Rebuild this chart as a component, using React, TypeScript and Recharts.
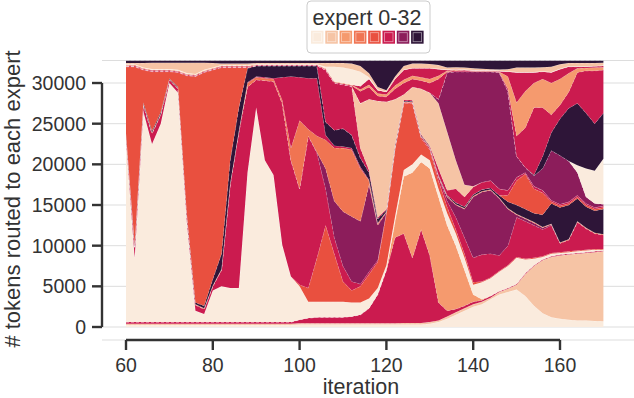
import { ComposedChart, Area, XAxis, YAxis, CartesianGrid, ReferenceLine } from 'recharts';

// sampled iterations
const iterations = [
  60, 62, 64, 66, 68, 70, 72, 74, 76, 78,
  80, 82, 84, 86, 88, 90, 92, 94, 96, 98,
  100, 102, 104, 106, 108, 110, 112, 114, 116, 118,
  120, 122, 124, 126, 128, 130, 132, 134, 136, 138,
  140, 142, 144, 146, 148, 150, 152, 154, 156, 158,
  160, 162, 164, 166, 168, 170,
];

const BATCH_TOKENS = 32768;

// cumulative token count at the top of each band, bottom to top
const topBaseCream = [
  250, 250, 250, 250, 250, 250, 250, 250, 250, 250,
  250, 250, 250, 250, 250, 250, 250, 250, 250, 250,
  300, 300, 300, 300, 300, 300, 300, 300, 300, 300,
  300, 300, 300, 300, 300, 400, 600, 1000, 1500, 2000,
  2500, 2800, 3400, 4000, 4300, 4600, 3800, 2600, 1700, 1200,
  1000, 900, 800, 800, 750, 700,
];
const topBasePeach = [
  400, 400, 400, 400, 400, 400, 400, 400, 400, 400,
  400, 400, 400, 400, 400, 400, 400, 400, 400, 400,
  450, 450, 450, 450, 450, 450, 450, 450, 450, 450,
  450, 450, 500, 500, 500, 600, 800, 1300, 1800, 2300,
  2800, 3100, 3600, 4300, 4700, 5200, 6500, 7500, 8200, 8600,
  8800, 8900, 9000, 9100, 9200, 9300,
];
const topLowCrimson = [
  600, 600, 600, 600, 600, 600, 600, 600, 600, 600,
  600, 600, 600, 600, 600, 600, 600, 600, 600, 600,
  900, 1100, 1200, 1200, 1200, 1200, 1300, 1500, 2300, 4000,
  7000, 11000, 11500, 8500, 12000, 8800, 3000, 2000, 2200, 2600,
  3100, 3300, 3800, 4400, 4800, 5300, 6600, 7600, 8300, 8700,
  8900, 9000, 9100, 9200, 9300, 9400,
];
const topLightOrangeLow = [
  600, 600, 600, 600, 600, 600, 600, 600, 600, 600,
  600, 600, 600, 600, 600, 600, 600, 600, 600, 600,
  900, 1100, 1200, 1200, 1200, 1200, 1300, 1500, 2300, 4000,
  7000, 13000, 18500, 19000, 20300, 19500, 16000, 12500, 10000, 7000,
  4000, 3400, 3800, 4400, 4800, 5300, 6600, 7600, 8300, 8700,
  8900, 9000, 9100, 9200, 9300, 9400,
];
const topBigCream = [
  23000, 8500, 26500, 22500, 25000, 30000, 28800, 13000, 2000, 1600,
  4500, 5000, 4800, 4800, 19000, 27000, 20500, 18700, 10100, 6200,
  5000, 3100, 3100, 3100, 3100, 3100, 3000, 3000, 3500, 4800,
  7600, 13600, 19300, 20000, 21200, 20500, 17000, 14000, 11500, 8500,
  5200, 5500, 6000, 6800, 7500, 8500, 8300, 8400, 8600, 9000,
  9100, 9200, 9300, 9400, 9500, 9500,
];
const topRedTri = [
  23000, 8500, 26500, 22500, 25000, 30000, 28800, 13000, 2000, 1600,
  4500, 5000, 4800, 4800, 19000, 27000, 20500, 18700, 10100, 6200,
  5200, 4800, 8500, 12500, 9000, 5600, 4500, 5000, 6500, 8000,
  14000, 22000, 27500, 27500, 23200, 21800, 18000, 14800, 12000, 9000,
  5500, 5600, 6100, 6900, 7600, 8600, 8400, 8500, 8700, 9100,
  9200, 9300, 9400, 9500, 9600, 9600,
];
const topCrimsonA = [
  23500, 9800, 27300, 23800, 26100, 30400, 29300, 13700, 2700, 2200,
  5000, 7000, 17500, 24000, 29500, 30400, 30300, 30200, 27500, 20500,
  17000, 23500, 21400, 17000, 11000, 7500, 5600, 5300, 6800, 8200,
  14100, 22100, 27600, 27600, 23400, 22000, 18500, 15500, 13500, 11000,
  8500, 8900, 9000, 8800, 10000, 13500, 13000, 12500, 12000, 12500,
  10300, 10700, 12900, 12100, 11500, 11300,
];
const topPurpleA = [
  23500, 9800, 27300, 23800, 26100, 30400, 29300, 13700, 2700, 2200,
  5000, 7000, 17500, 24000, 29500, 30400, 30300, 30200, 27500, 20500,
  17000, 23500, 21500, 19500, 15500, 14200, 13600, 13000, 17500, 12500,
  14100, 22100, 27600, 27600, 23400, 22000, 18500, 16000, 15000, 14500,
  16000, 16600, 16800, 15800, 14500, 13800, 13300, 12800, 12200, 12600,
  10300, 10700, 12900, 12100, 11500, 11300,
];
const topOrangeA = [
  23600, 9900, 27400, 23900, 26200, 30450, 29400, 13800, 2800, 2300,
  5100, 7100, 17600, 24100, 30000, 30700, 30600, 30500, 27900, 22000,
  25400, 24300, 23500, 23000, 22000, 22000, 21800, 19500, 18000, 12700,
  14200, 22200, 27700, 27700, 23500, 22100, 18600, 16100, 15100, 14600,
  16100, 16700, 16900, 15900, 14600, 13900, 13400, 12900, 12300, 12700,
  10400, 10800, 13000, 12200, 11600, 11400,
];
const topCrimsonA2 = [
  23600, 9900, 27400, 23900, 26200, 30450, 29400, 13800, 2800, 2300,
  5100, 7100, 17600, 24100, 30100, 30800, 30700, 30600, 30700, 30800,
  30700, 30600, 30600, 23600, 22300, 22200, 22000, 19700, 18100, 12800,
  14200, 22200, 27700, 27700, 23500, 22100, 18600, 16100, 15100, 14600,
  16100, 16700, 16900, 15900, 14600, 13900, 13400, 12900, 12300, 12700,
  10400, 10800, 13000, 12200, 11600, 11400,
];
const topDarkA = [
  23800, 10100, 27600, 24100, 26400, 30550, 29500, 14000, 3000, 2600,
  5900, 9000, 20500, 27000, 31800, 32100, 32100, 32100, 32100, 32100,
  32100, 32100, 32100, 25200, 24200, 24400, 23600, 20800, 19000, 13300,
  14400, 22400, 27800, 27800, 23600, 22200, 18700, 16200, 15300, 14800,
  16300, 16900, 17100, 16200, 15400, 15000, 14500, 14000, 13800, 15200,
  14700, 15000, 15800, 14800, 14300, 14500,
];
const topRedBig = [
  32000, 32000, 31600, 31400, 31400, 31400, 31300, 30900, 30800, 31300,
  31600, 31900, 31900, 31900, 31900, 32100, 32100, 32100, 32100, 32100,
  32100, 32100, 32100, 25200, 24200, 24400, 23600, 20800, 19000, 13300,
  14400, 22400, 27800, 27800, 23600, 22200, 18700, 16200, 15300, 14800,
  16300, 16900, 17100, 16200, 16200, 18000, 18800, 17000, 16500, 15400,
  14900, 15200, 16000, 15000, 14500, 14700,
];
const topCrimsonB = [
  32080, 32080, 31680, 31480, 31480, 31480, 31380, 30980, 30880, 31380,
  31680, 31980, 31980, 31980, 31980, 32150, 32150, 32150, 32150, 32150,
  32150, 32150, 32150, 31600, 30000, 29800, 29600, 22000, 19300, 13500,
  14500, 22500, 27900, 27900, 23700, 22300, 19500, 16800, 17000, 16000,
  17200, 17800, 18000, 17000, 16800, 18400, 19000, 17300, 16800, 15600,
  15100, 15400, 16200, 15200, 14700, 14900,
];
const topPeachV = [
  32080, 32080, 31680, 31480, 31480, 31480, 31380, 30980, 30880, 31380,
  31680, 31980, 31980, 31980, 31980, 32150, 32150, 32150, 32150, 32150,
  32150, 32150, 32150, 31600, 30000, 29800, 29600, 27500, 28000, 27800,
  27700, 28000, 28600, 29500, 29300, 28800, 27500, 24000, 20500, 17500,
  17300, 17800, 18000, 17000, 16800, 18400, 19000, 17300, 16800, 15600,
  15100, 15400, 16200, 15200, 14700, 14900,
];
const topPurpleB = [
  32080, 32080, 31680, 31480, 31480, 31480, 31380, 30980, 30880, 31380,
  31680, 31980, 31980, 31980, 31980, 32150, 32150, 32150, 32150, 32150,
  32150, 32150, 32150, 31600, 30000, 29800, 29600, 27500, 28000, 27800,
  27700, 28000, 28600, 29500, 29300, 28800, 28000, 31300, 31400, 31400,
  31400, 31400, 31400, 31300, 29000, 21000, 19600, 18600, 19500, 21700,
  21100, 20400, 19000, 16000, 15200, 15100,
];
const topCreamR = [
  32080, 32080, 31680, 31480, 31480, 31480, 31380, 30980, 30880, 31380,
  31680, 31980, 31980, 31980, 31980, 32150, 32150, 32150, 32150, 32150,
  32150, 32150, 32150, 31600, 30000, 29800, 29600, 27500, 28000, 27800,
  27700, 28000, 28600, 29500, 29300, 28800, 28000, 31300, 31400, 31400,
  31400, 31400, 31400, 31300, 29000, 21000, 19600, 18600, 19500, 21700,
  21100, 20400, 19900, 19500, 19200, 20700,
];
const topDarkB = [
  32080, 32080, 31680, 31480, 31480, 31480, 31380, 30980, 30880, 31380,
  31680, 31980, 31980, 31980, 31980, 32150, 32150, 32150, 32150, 32150,
  32150, 32150, 32150, 31600, 30000, 29800, 29600, 27500, 28000, 27800,
  27700, 28000, 28600, 29500, 29300, 28800, 28000, 31300, 31400, 31400,
  31400, 31400, 31400, 31300, 29000, 21000, 19600, 18700, 21000, 23900,
  25600, 26900, 27500, 26300, 25000, 26300,
];
const topCrimsonC = [
  32160, 32160, 31760, 31560, 31560, 31560, 31460, 31060, 30960, 31460,
  31760, 32060, 32060, 32060, 32060, 32200, 32200, 32200, 32200, 32200,
  32200, 32200, 32200, 31700, 30100, 29900, 29700, 29000, 29500, 28400,
  28300, 29300, 30000, 30500, 30300, 30000, 30500, 31400, 31500, 31500,
  31450, 31450, 31450, 31350, 29300, 23500, 24500, 27000, 27000, 26100,
  27300, 28900, 31300, 31500, 31500, 31600,
];
const topLightOrangeTop = [
  32240, 32240, 31840, 31640, 31640, 31640, 31540, 31140, 31040, 31540,
  31840, 32140, 32140, 32140, 32140, 32250, 32250, 32250, 32250, 32250,
  32250, 32250, 32250, 31800, 30200, 30000, 29800, 29200, 29800, 28700,
  28600, 29700, 30400, 30900, 30700, 30500, 30900, 31500, 31600, 31550,
  31500, 31500, 31500, 31400, 30800, 27600, 29000, 30000, 30500, 30000,
  30500, 31200, 31800, 31850, 31900, 31950,
];
const topCrimsonTop = [
  32240, 32240, 31840, 31640, 31640, 31640, 31540, 31140, 31040, 31540,
  31840, 32140, 32140, 32140, 32140, 32250, 32250, 32250, 32250, 32250,
  32250, 32250, 32250, 31800, 30200, 30000, 29800, 29600, 30500, 29100,
  28900, 30500, 31600, 31800, 31800, 31800, 31700, 31600, 31650, 31600,
  31550, 31550, 31550, 31450, 31400, 31300, 31300, 31300, 31400, 31300,
  31700, 32000, 32000, 32000, 32050, 32100,
];
const topCreamTop = [
  32320, 32320, 31920, 31720, 31720, 31720, 31620, 31220, 31120, 31620,
  31920, 32220, 32220, 32220, 32220, 32300, 32300, 32300, 32300, 32300,
  32300, 32300, 32300, 32000, 32000, 31900, 31700, 31400, 30700, 29200,
  28950, 30550, 31650, 31850, 31850, 31850, 31750, 31650, 31700, 31650,
  31600, 31600, 31600, 31500, 31450, 31350, 31350, 31350, 31450, 31350,
  31750, 32050, 32050, 32050, 32100, 32150,
];
const topPeachTop = [
  32450, 32450, 32450, 32500, 32500, 32500, 32500, 32500, 32500, 32500,
  32450, 32400, 32400, 32400, 32400, 32450, 32450, 32450, 32450, 32450,
  32450, 32450, 32450, 32450, 32450, 32450, 32400, 32100, 31200, 29500,
  29100, 30800, 32100, 32400, 32400, 32350, 32200, 31900, 31950, 31900,
  31800, 31750, 31700, 31650, 31700, 31900, 31900, 31900, 31950, 32000,
  32300, 32450, 32450, 32450, 32450, 32500,
];

const CREAM = '#faebdd';
const PEACH = '#f6c4a5';
const LIGHT_ORANGE = '#f59a6e';
const ORANGE = '#f07452';
const RED = '#e9503f';
const CRIMSON = '#cb1b4f';
const PURPLE = '#8c1d5b';
const DARK = '#2e1538';
const PALETTE = [CREAM, PEACH, LIGHT_ORANGE, ORANGE, RED, CRIMSON, PURPLE, DARK];

const bands: { top: number[] | null; color: string }[] = [
  { top: topBaseCream, color: CREAM },
  { top: topBasePeach, color: PEACH },
  { top: topLowCrimson, color: CRIMSON },
  { top: topLightOrangeLow, color: LIGHT_ORANGE },
  { top: topBigCream, color: CREAM },
  { top: topRedTri, color: RED },
  { top: topCrimsonA, color: CRIMSON },
  { top: topPurpleA, color: PURPLE },
  { top: topOrangeA, color: ORANGE },
  { top: topCrimsonA2, color: CRIMSON },
  { top: topDarkA, color: DARK },
  { top: topRedBig, color: RED },
  { top: topCrimsonB, color: CRIMSON },
  { top: topPeachV, color: PEACH },
  { top: topPurpleB, color: PURPLE },
  { top: topCreamR, color: CREAM },
  { top: topDarkB, color: DARK },
  { top: topCrimsonC, color: CRIMSON },
  { top: topLightOrangeTop, color: LIGHT_ORANGE },
  { top: topCrimsonTop, color: CRIMSON },
  { top: topCreamTop, color: CREAM },
  { top: topPeachTop, color: PEACH },
  { top: null, color: DARK },
];

const data = iterations.map((iteration, i) => {
  const row: Record<string, number> = { iteration };
  let below = 0;
  bands.forEach((b, k) => {
    const top = b.top ? b.top[i] : BATCH_TOKENS;
    row[`expert ${k}`] = top - below;
    below = top;
  });
  return row;
});

const FONT = '"Liberation Sans", Arial, sans-serif';
const INK = '#333333';
const X_MIN = 54.47;

export default function App() {
  return (
    <div style={{ position: 'absolute', left: 0, top: 0, width: 634, height: 398, background: '#fff', fontFamily: FONT }}>
      <ComposedChart width={634} height={398} data={data} margin={{ top: 60.5, right: 0, bottom: 0, left: 0 }}>
        <CartesianGrid vertical={false} stroke="#dddddd" strokeWidth={1} />
        <XAxis
          dataKey="iteration"
          type="number"
          domain={[X_MIN, 177.05]}
          allowDataOverflow
          ticks={[60, 80, 100, 120, 140, 160]}
          height={58}
          axisLine={false}
          tickSize={10}
          tickMargin={8}
          tickLine={{ stroke: INK, strokeWidth: 2.4 }}
          tick={{ fill: INK, fontSize: 19.5, fontFamily: FONT }}
        />
        <YAxis
          type="number"
          domain={[-1598, BATCH_TOKENS]}
          allowDataOverflow
          ticks={[0, 5000, 10000, 15000, 20000, 25000, 30000]}
          width={102}
          axisLine={false}
          tickSize={10}
          tickMargin={6}
          tickLine={{ stroke: INK, strokeWidth: 2.4 }}
          tick={{ fill: INK, fontSize: 19.5, fontFamily: FONT }}
        />
        {bands.map((b, k) => (
          <Area
            key={k}
            type="linear"
            dataKey={`expert ${k}`}
            stackId="experts"
            fill={b.color}
            fillOpacity={1}
            stroke="#ffffff"
            strokeOpacity={0.45}
            strokeWidth={0.8}
            strokeDasharray="3 2"
            dot={false}
            activeDot={false}
            isAnimationActive={false}
          />
        ))}
        <ReferenceLine
          segment={[{ x: X_MIN, y: 0 }, { x: X_MIN, y: 30000 }]}
          stroke={INK}
          strokeWidth={2.4}
          ifOverflow="visible"
        />
        <ReferenceLine
          segment={[{ x: 60, y: -1598 }, { x: 160, y: -1598 }]}
          stroke={INK}
          strokeWidth={2.4}
          ifOverflow="visible"
        />
      </ComposedChart>
      <svg width={634} height={398} style={{ position: 'absolute', left: 0, top: 0, pointerEvents: 'none' }}>
        <rect x={307} y={1} width={123} height={52} rx={4} fill="#ffffff" fillOpacity={0.85} stroke="#cccccc" strokeWidth={1} />
        <text x={367} y={25} textAnchor="middle" fontSize={21.5} fill={INK} fontFamily={FONT}>expert 0-32</text>
        {PALETTE.map((c, i) => (
          <g key={c}>
            <rect x={311 + i * 14.3} y={30.7} width={12.5} height={13} fill={c} />
            <rect x={313 + i * 14.3} y={32.7} width={8.5} height={9} fill="none" stroke="#ffffff" strokeOpacity={0.55} strokeWidth={0.8} />
          </g>
        ))}
        <text x={361} y={394} textAnchor="middle" fontSize={21.5} fill={INK} fontFamily={FONT}>iteration</text>
        <text
          x={0}
          y={0}
          transform="translate(20 199) rotate(-90)"
          textAnchor="middle"
          fontSize={22}
          fill={INK}
          fontFamily={FONT}
        >
          # tokens routed to each expert
        </text>
      </svg>
    </div>
  );
}
